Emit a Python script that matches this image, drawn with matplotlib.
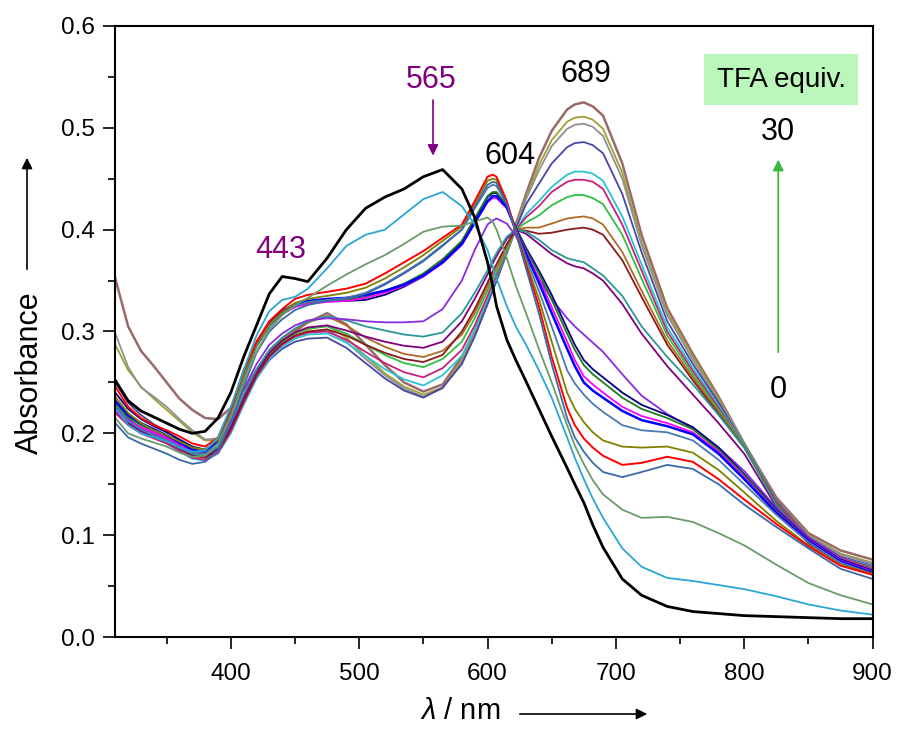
import matplotlib
matplotlib.use("Agg")
from matplotlib import pyplot as plt
from matplotlib.ticker import MultipleLocator

plt.rcParams['font.family'] = ['Liberation Sans', 'DejaVu Sans']
plt.rcParams['mathtext.fontset'] = 'custom'
plt.rcParams['mathtext.it'] = 'Liberation Sans:italic'
plt.rcParams['mathtext.rm'] = 'Liberation Sans'

# wavelength grid (nm) at which the spectra were read
wl = [310, 320, 330, 340, 350, 360, 370, 380, 390, 400,
      410, 420, 430, 440, 450, 460, 475, 490, 505, 520,
      535, 550, 565, 580, 590, 600, 604, 607, 615, 622,
      630, 640, 650, 662, 668, 675, 682, 690, 705, 720,
      740, 760, 780, 800, 825, 850, 875, 900]

# 0 equiv
black = [.252, .232, .222, .216, .210, .204, .200, .202, .215, .240,
         .275, .306, .337, .354, .352, .349, .372, .400, .421, .432,
         .440, .452, .459, .440, .412, .368, .345, .325, .292, .272,
         .251, .224, .197, .166, .150, .132, .110, .088, .057, .041,
         .030, .025, .023, .021, .020, .019, .018, .018]
lightblue = [.225, .208, .200, .196, .192, .186, .182, .183, .196, .226,
             .262, .296, .320, .331, .334, .342, .362, .384, .395, .400,
             .415, .430, .437, .423, .405, .380, .364, .352, .325, .305,
             .287, .262, .235, .196, .176, .155, .136, .117, .087, .069,
             .058, .055, .051, .047, .040, .032, .026, .022]
sage = [.215, .200, .195, .191, .187, .181, .177, .178, .190, .216,
        .250, .280, .302, .316, .326, .333, .345, .356, .366, .375,
        .386, .398, .403, .404, .408, .412, .408, .400, .372, .345,
        .318, .283, .250, .208, .188, .170, .154, .140, .125, .117,
        .118, .113, .102, .090, .071, .053, .041, .032]

# spectra with the 604 nm band
sblue_a = [.210, .196, .190, .185, .180, .174, .170, .172, .183, .210,
           .246, .279, .300, .312, .321, .326, .330, .332, .337, .346,
           .357, .369, .384, .400, .422, .444, .447, .446, .425, .397,
           .362, .318, .268, .215, .196, .182, .171, .162, .157, .162,
           .169, .165, .150, .130, .108, .087, .067, .057]
red = [.246, .226, .215, .208, .203, .197, .190, .187, .196, .224,
       .262, .290, .310, .322, .332, .336, .339, .342, .347, .357,
       .368, .379, .392, .405, .428, .452, .454, .452, .428, .398,
       .365, .325, .275, .225, .208, .195, .186, .178, .169, .171,
       .177, .172, .155, .135, .111, .089, .070, .061]
olive = [.236, .220, .210, .203, .198, .192, .186, .184, .194, .222,
         .257, .287, .307, .319, .328, .332, .335, .338, .343, .352,
         .363, .375, .389, .403, .425, .448, .450, .449, .427, .399,
         .368, .332, .290, .240, .224, .211, .201, .193, .187, .186,
         .187, .181, .164, .142, .114, .090, .071, .062]
sblue_b = [.228, .212, .204, .198, .193, .187, .181, .180, .190, .218,
           .254, .285, .305, .317, .325, .329, .331, .333, .338, .347,
           .358, .370, .385, .400, .421, .441, .444, .443, .425, .400,
           .372, .340, .305, .262, .249, .238, .229, .221, .208, .203,
           .201, .193, .174, .150, .120, .093, .073, .062]
blue = [.232, .218, .210, .204, .198, .191, .184, .182, .192, .220,
        .257, .288, .309, .320, .327, .330, .332, .333, .336, .340,
        .346, .355, .368, .386, .407, .428, .433, .433, .422, .400,
        .376, .348, .318, .283, .266, .250, .242, .235, .222, .213,
        .207, .199, .180, .155, .122, .094, .074, .063]
magenta = [.222, .212, .206, .201, .196, .189, .183, .181, .191, .219,
           .255, .286, .306, .317, .324, .327, .329, .330, .333, .338,
           .345, .354, .367, .385, .406, .427, .431, .431, .421, .400,
           .378, .352, .324, .290, .272, .256, .248, .240, .226, .217,
           .210, .201, .182, .157, .123, .095, .075, .064]
green = [.230, .216, .208, .202, .197, .190, .184, .182, .192, .221,
         .257, .287, .307, .318, .325, .328, .330, .331, .334, .340,
         .347, .357, .371, .389, .411, .433, .437, .437, .423, .401,
         .380, .357, .331, .298, .282, .267, .258, .250, .235, .224,
         .215, .204, .184, .159, .124, .095, .075, .064]
navy = [.240, .224, .214, .207, .201, .194, .187, .184, .193, .222,
        .258, .288, .308, .319, .326, .329, .330, .330, .331, .336,
        .344, .354, .369, .388, .410, .432, .436, .436, .424, .402,
        .382, .360, .336, .303, .287, .272, .263, .255, .240, .228,
        .218, .206, .186, .160, .125, .096, .076, .065]
violet = [.224, .214, .205, .200, .195, .188, .182, .181, .190, .213,
          .243, .268, .287, .298, .306, .311, .313, .312, .310, .309,
          .309, .310, .322, .350, .380, .405, .409, .411, .406, .394,
          .375, .352, .332, .313, .305, .297, .289, .280, .258, .237,
          .219, .205, .186, .163, .127, .098, .077, .066]

# spectra with the 689 nm band
teal = [.228, .212, .204, .198, .193, .186, .180, .178, .187, .210,
        .238, .263, .282, .294, .303, .310, .315, .311, .305, .301,
        .297, .295, .299, .318, .338, .360, .370, .377, .393, .400,
        .398, .390, .380, .372, .370, .368, .362, .355, .335, .305,
        .275, .248, .218, .186, .130, .094, .075, .064]
purple = [.222, .210, .202, .197, .192, .185, .179, .177, .185, .207,
          .235, .260, .279, .291, .299, .304, .306, .301, .295, .290,
          .286, .284, .290, .310, .332, .356, .367, .374, .391, .400,
          .396, .386, .376, .367, .364, .362, .357, .350, .327, .298,
          .266, .238, .210, .180, .128, .092, .073, .062]
darkred = [.225, .211, .203, .197, .192, .185, .178, .176, .183, .204,
           .232, .257, .276, .288, .296, .300, .302, .296, .287, .279,
           .273, .270, .277, .300, .322, .348, .359, .366, .386, .400,
           .399, .396, .397, .400, .401, .402, .400, .395, .370, .334,
           .287, .252, .219, .186, .131, .095, .076, .066]
orange = [.230, .214, .205, .199, .194, .187, .180, .178, .185, .207,
          .236, .262, .281, .293, .302, .309, .315, .306, .294, .285,
          .278, .275, .281, .297, .318, .344, .355, .362, .383, .400,
          .402, .402, .406, .411, .412, .413, .411, .405, .378, .340,
          .291, .255, .221, .187, .132, .096, .077, .067]
lime = [.228, .213, .204, .198, .193, .186, .179, .177, .184, .206,
        .234, .259, .278, .290, .298, .303, .305, .298, .287, .277,
        .269, .265, .273, .290, .313, .340, .351, .358, .380, .400,
        .407, .414, .424, .432, .434, .434, .431, .425, .395, .352,
        .296, .258, .223, .188, .132, .096, .077, .067]
crimson = [.220, .208, .200, .195, .190, .183, .176, .174, .181, .202,
           .230, .256, .275, .287, .295, .299, .300, .292, .280, .269,
           .260, .255, .264, .282, .306, .335, .347, .355, .379, .400,
           .412, .423, .437, .447, .449, .449, .447, .440, .405, .360,
           .300, .261, .225, .188, .133, .097, .078, .068]
cyan = [.232, .214, .203, .196, .190, .182, .175, .173, .180, .200,
        .228, .254, .273, .285, .293, .297, .298, .289, .276, .263,
        .253, .247, .257, .276, .302, .332, .344, .353, .378, .400,
        .415, .428, .442, .454, .457, .457, .455, .448, .413, .366,
        .304, .264, .227, .189, .133, .097, .078, .069]
indigo = [.250, .230, .218, .209, .202, .193, .185, .181, .186, .204,
          .230, .254, .272, .283, .290, .293, .294, .284, .269, .254,
          .242, .235, .245, .268, .295, .327, .340, .350, .377, .401,
          .425, .445, .465, .481, .485, .486, .483, .475, .435, .378,
          .310, .268, .230, .189, .134, .098, .079, .070]
gray = [.298, .265, .245, .236, .226, .214, .203, .194, .195, .210,
        .235, .259, .277, .288, .295, .299, .302, .290, .273, .257,
        .244, .236, .244, .270, .296, .327, .340, .350, .377, .402,
        .430, .458, .482, .499, .503, .504, .501, .492, .450, .385,
        .316, .272, .232, .190, .135, .099, .081, .072]
khaki = [.287, .262, .246, .234, .223, .212, .201, .193, .193, .208,
         .234, .259, .278, .290, .298, .302, .306, .294, .276, .259,
         .246, .238, .245, .272, .298, .328, .341, .350, .378, .403,
         .432, .463, .488, .506, .510, .511, .508, .499, .456, .388,
         .319, .275, .234, .190, .135, .100, .082, .073]
# 30 equiv
brown = [.352, .305, .281, .266, .250, .234, .223, .215, .214, .225,
         .243, .262, .278, .290, .300, .309, .318, .307, .287, .267,
         .250, .241, .248, .275, .300, .330, .343, .352, .380, .405,
         .435, .470, .497, .518, .523, .525, .521, .512, .465, .395,
         .323, .278, .236, .190, .137, .102, .085, .076]

series = [
    (brown, '#9a6a6a', 1.8), (khaki, '#a0a030', 1.3), (gray, '#909090', 1.3),
    (indigo, '#4646a6', 1.3), (cyan, '#28c4d4', 1.3), (crimson, '#c8207a', 1.3),
    (lime, '#30c040', 1.3), (orange, '#b06a28', 1.3), (darkred, '#8b1a1a', 1.3),
    (purple, '#800080', 1.3), (teal, '#2a9898', 1.3), (violet, '#8a2be2', 1.3),
    (navy, '#000080', 1.3), (green, '#1e7a1e', 1.3), (magenta, '#ff00ff', 1.3),
    (blue, '#0000ff', 1.8), (sblue_b, '#4a7ab0', 1.3), (olive, '#808000', 1.3),
    (red, '#ff0000', 1.4), (sblue_a, '#3a6aa8', 1.3), (sage, '#6b9a6b', 1.3),
    (lightblue, '#2aa6d6', 1.3), (black, '#000000', 2.0),
]

fig = plt.figure(figsize=(8.97, 7.29), dpi=100)
ax = fig.add_axes([115.3 / 897, 92 / 729, 757.3 / 897, 611 / 729])

for vals, col, lw in series:
    ax.plot(wl, vals, color=col, lw=lw, solid_joinstyle='round')

ax.set_xlim(310, 900)
ax.set_ylim(0, 0.6)
ax.xaxis.set_major_locator(MultipleLocator(100))
ax.xaxis.set_minor_locator(MultipleLocator(50))
ax.yaxis.set_major_locator(MultipleLocator(0.1))
ax.yaxis.set_minor_locator(MultipleLocator(0.05))
ax.yaxis.set_major_formatter(plt.FuncFormatter(lambda v, p: '%.1f' % v))
ax.tick_params(which='major', direction='out', length=8.5, width=1.2,
               labelsize=17.5, top=False, right=False)
ax.tick_params(which='minor', direction='out', length=5, width=1.2,
               top=False, right=False)
ax.tick_params(axis='x', which='major', pad=10)
ax.tick_params(axis='y', which='major', pad=6)
for s in ax.spines.values():
    s.set_linewidth(1.5)

ax.set_xlabel(r'$\lambda$ / nm', fontsize=21)
ax.xaxis.set_label_coords(0.455, -0.098)
ax.set_ylabel('Absorbance', fontsize=22)
ax.yaxis.set_label_coords(-0.093, 0.432)

# axis arrows
fig.patches.append(matplotlib.patches.FancyArrowPatch(
    (517 / 897, 15 / 729), (650 / 897, 15 / 729), transform=fig.transFigure,
    arrowstyle='-|>', mutation_scale=16, color='black', lw=1.2))
fig.patches.append(matplotlib.patches.FancyArrowPatch(
    (27 / 897, 457 / 729), (27 / 897, 574 / 729), transform=fig.transFigure,
    arrowstyle='-|>', mutation_scale=16, color='black', lw=1.2))

# band labels
ax.text(439, 0.380, '443', color='#800080', fontsize=22, ha='center', va='center')
ax.text(556, 0.547, '565', color='#800080', fontsize=22, ha='center', va='center')
ax.annotate('', xy=(557.5, 0.470), xytext=(557.5, 0.530),
            arrowprops=dict(arrowstyle='-|>', color='#800080', lw=1.2,
                            mutation_scale=16))
ax.text(617.7, 0.472, '604', color='black', fontsize=22, ha='center', va='center')
ax.text(676.8, 0.553, '689', color='black', fontsize=22, ha='center', va='center')

# titration legend
ax.text(828.8, 0.547, 'TFA equiv.', fontsize=20, ha='center', va='center',
        bbox=dict(boxstyle='square,pad=0.45', fc='#bbf7bb', ec='none'))
ax.text(826.5, 0.496, '30', fontsize=22, ha='center', va='center')
ax.text(826.5, 0.243, '0', fontsize=22, ha='center', va='center')
ax.annotate('', xy=(826.5, 0.4715), xytext=(826.5, 0.277),
            arrowprops=dict(arrowstyle='-|>', color='#3cb83c', lw=1.3,
                            mutation_scale=16))

fig.savefig('out.png', dpi=100)
